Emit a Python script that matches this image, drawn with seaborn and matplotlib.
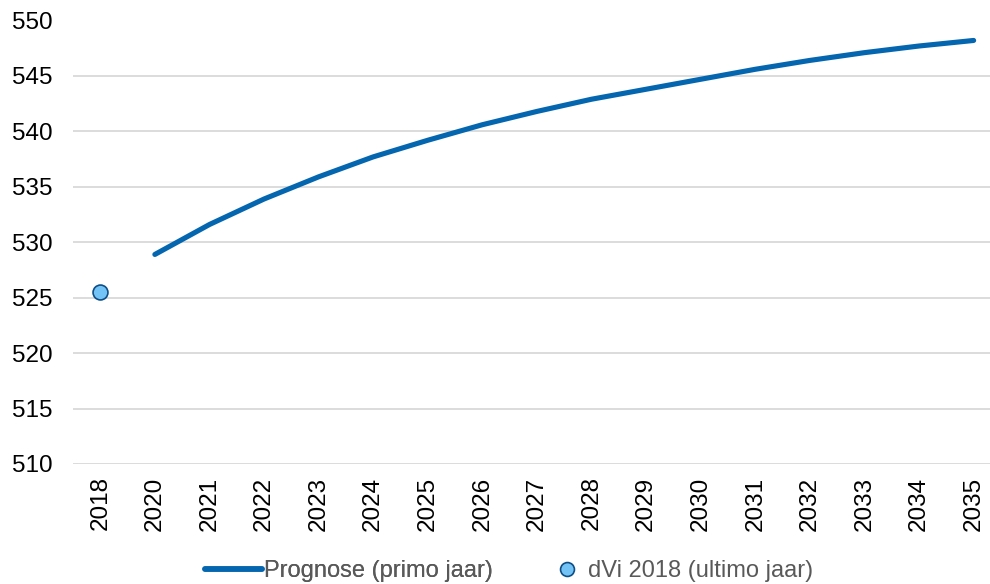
import matplotlib
matplotlib.use("Agg")
import matplotlib.pyplot as plt
import numpy as np
import pandas as pd
import seaborn as sns
from matplotlib.lines import Line2D

# Data
years = ["2018", "2020", "2021", "2022", "2023", "2024", "2025", "2026", "2027",
         "2028", "2029", "2030", "2031", "2032", "2033", "2034", "2035"]
prognose_years = years[1:]
prognose = [528.9, 531.6, 533.9, 535.9, 537.7, 539.2, 540.6, 541.8,
            542.9, 543.8, 544.7, 545.6, 546.4, 547.1, 547.7, 548.2]
dvi_years = ["2018"]
dvi = [525.5]

sns.set_style("white")
plt.rcParams['font.family'] = ['Liberation Sans', 'DejaVu Sans']

pos = {y: i for i, y in enumerate(years)}
df_prog = pd.DataFrame({"x": [pos[y] for y in prognose_years], "waarde": prognose})
df_dvi = pd.DataFrame({"x": [pos[y] for y in dvi_years], "waarde": dvi})

fig = plt.figure(figsize=(9.9, 5.84), dpi=100)
ax = fig.add_axes([73 / 990, 120 / 584, 917 / 990, 443.5 / 584])

line_color = "#0566B0"
dot_color = "#74C3F7"
dot_edge = "#0D4E86"

sns.lineplot(data=df_prog, x="x", y="waarde", ax=ax, color=line_color,
             linewidth=3.7, solid_capstyle="round", legend=False)
sns.scatterplot(data=df_dvi, x="x", y="waarde", ax=ax, color=dot_color,
                edgecolor=dot_edge, linewidth=1.2, s=115, zorder=5, legend=False)

ax.set_xlim(-0.5, len(years) - 0.7)
ax.set_ylim(510, 550)
ax.set_yticks(np.arange(510, 551, 5))
ax.set_xticks(range(len(years)))
ax.set_xticklabels(years, rotation=90)
ax.tick_params(axis="both", length=0, labelsize=17.5, colors="black")
ax.tick_params(axis="x", pad=9)
ax.tick_params(axis="y", pad=15)
ax.grid(axis="y", color="#D9D9D9", linewidth=1.3)
ax.set_axisbelow(True)
for s in ax.spines.values():
    s.set_visible(False)
ax.set_xlabel("")
ax.set_ylabel("")

# legend: two separate entries to get the spacing of the original
h_line = Line2D([0], [0], color=line_color, linewidth=4)
h_dot = Line2D([0], [0], linestyle="none", marker="o", markersize=10,
               markerfacecolor=dot_color, markeredgecolor=dot_edge, markeredgewidth=1.2)
leg1 = fig.legend([h_line], ["Prognose (primo jaar)"], loc="center left",
                  bbox_to_anchor=(205 / 990, 1 - 571 / 584), frameon=False,
                  fontsize=17, handlelength=2.4, handletextpad=0.1,
                  borderpad=0, borderaxespad=0, labelcolor="#595959")
leg2 = fig.legend([h_dot], ["dVi 2018 (ultimo jaar)"], loc="center left",
                  bbox_to_anchor=(555 / 990, 1 - 571 / 584), frameon=False,
                  fontsize=17, handlelength=1.0, handletextpad=0.4,
                  borderpad=0, borderaxespad=0, labelcolor="#595959")
fig.add_artist(leg1)

fig.savefig("out.png", dpi=100)
